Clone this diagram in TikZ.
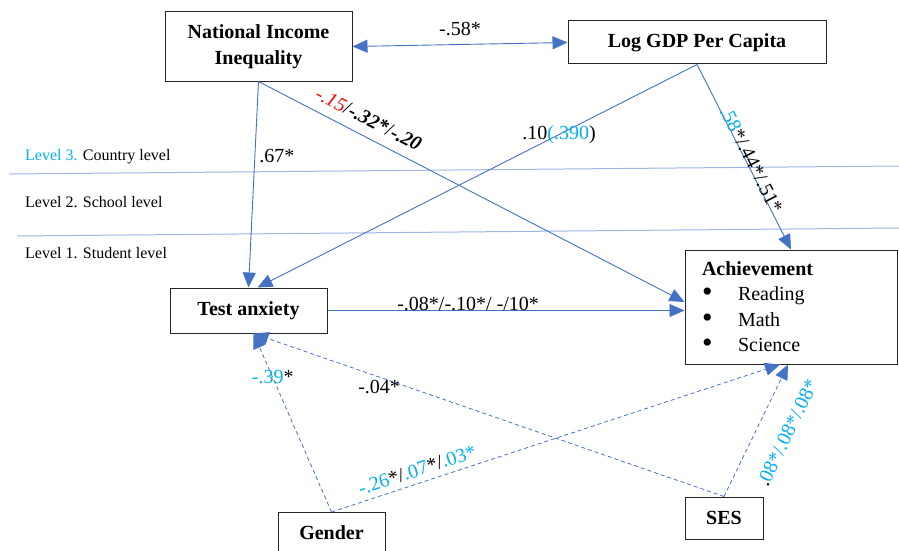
\documentclass[tikz,border=0pt]{standalone}
\usepackage{fontspec}
\setmainfont{Liberation Serif}
\usetikzlibrary{arrows.meta, calc}

\definecolor{pathblue}{HTML}{4472C4}
\definecolor{coefcyan}{HTML}{00B0F0}
\definecolor{levelline}{HTML}{9DB6E3}
\newcommand{\cy}[1]{\textcolor{coefcyan}{#1}}
\newcommand{\itembullet}{\makebox[36pt][l]{\raisebox{-1pt}{\fontsize{30}{0}\selectfont\textbullet}}}

\begin{document}
\begin{tikzpicture}[
    x=1pt, y=-1pt,
    every node/.style={align=center},
    box/.style={rectangle, draw=black!85, line width=1pt, fill=white, inner sep=0pt, font=\bfseries\fontsize{20}{26}\selectfont},
    arrow/.style={-{Triangle[length=15pt, width=13pt]}, line width=0.9pt, draw=pathblue},
    bidir/.style={{Triangle[length=15pt, width=13pt]}-{Triangle[length=15pt, width=13pt]}, line width=0.9pt, draw=pathblue},
    dasharrow/.style={arrow, line width=0.8pt, dash pattern=on 4pt off 3pt},
    lbl/.style={font=\fontsize{20}{24}\selectfont, inner sep=1pt},
    lvl/.style={font=\fontsize{16}{19}\selectfont, anchor=west, inner sep=0pt}
]
\useasboundingbox (0,0) rectangle (899,551);

% ================= LEVELS =================
\node[lvl] (lvlcountry) at (25,157) {\cy{Level 3.} Country level};
\node[lvl] (lvlschool) at (25,202) {Level 2. School level};
\node[lvl] (lvlstudent) at (25,253) {Level 1. Student level};
\draw[levelline, line width=1pt] (9,174) -- (899,166);
\draw[levelline, line width=1pt] (17,236) -- (899,228);

% ================= COUNTRY LEVEL =================
\node[box, minimum width=187pt, minimum height=69pt] (nii) at (258.5,46.5) {National Income\\Inequality};
\node[box, minimum width=258pt, minimum height=43pt] (gdp) at (697,42.5) {Log GDP Per Capita};

% ================= STUDENT LEVEL =================
\node[box, minimum width=212pt, minimum height=114pt, text width=178pt, align=left, font=\fontsize{20}{25.5}\selectfont] (achieve) at (791,307)
    {\textbf{Achievement}\\\itembullet Reading\\\itembullet Math\\\itembullet Science};
\node[box, minimum width=157pt, minimum height=45pt] (anxiety) at (248.5,310.5) {Test anxiety};
\node[box, anchor=north, minimum width=107pt, inner ysep=13pt] (gender) at (331.5,512) {Gender};
\node[box, minimum width=78pt, minimum height=42pt] (ses) at (724,518) {SES};

% Country level paths
\draw[bidir] (nii.east) -- node[lbl, above=7pt] {-.58*} (gdp.west);
\draw[arrow] (nii.south) -- node[lbl, pos=0.36, right=3pt] {.67*} (anxiety.north);
\draw[arrow] (nii.south) -- node[lbl, sloped, pos=0.24, above=9pt]
    {\textcolor{red}{\textit{-.15}}/\textbf{\textit{-.32*}}/\textbf{\textit{-.20}}} ([yshift=5pt]achieve.west);
\draw[arrow] (gdp.south) -- node[lbl, pos=0.314] {.10\cy{(.390})} ([xshift=9pt]anxiety.north);
\draw[arrow] (gdp.south) -- node[lbl, sloped, pos=0.53, above=-3pt] {\cy{.58}*/.44*/.51*} (achieve.north);

% Student level paths
\draw[arrow] (anxiety.east) -- node[lbl, pos=0.394, above=-2pt] {-.08*/-.10*/ -/10*} (achieve.west |- anxiety.east);
\draw[dasharrow] (gender.north) -- node[lbl, pos=0.754] {\cy{-.39}*} ([xshift=5pt]anxiety.south);
\draw[dasharrow] (gender.north) -- node[lbl, sloped, pos=0.2, above=5pt] {\cy{-.26}*/\cy{.07}*/\cy{.03*}} ([xshift=-11pt]achieve.south);
\draw[dasharrow] (ses.north) -- node[lbl, pos=0.733, below=2pt] {-.04*} ([xshift=5pt]anxiety.south);
\draw[dasharrow] (ses.north) -- node[lbl, sloped, pos=0.58, below=21pt] {.\cy{08*/.08*/.08*}} ([xshift=-3pt]achieve.south);

\end{tikzpicture}
\end{document}
